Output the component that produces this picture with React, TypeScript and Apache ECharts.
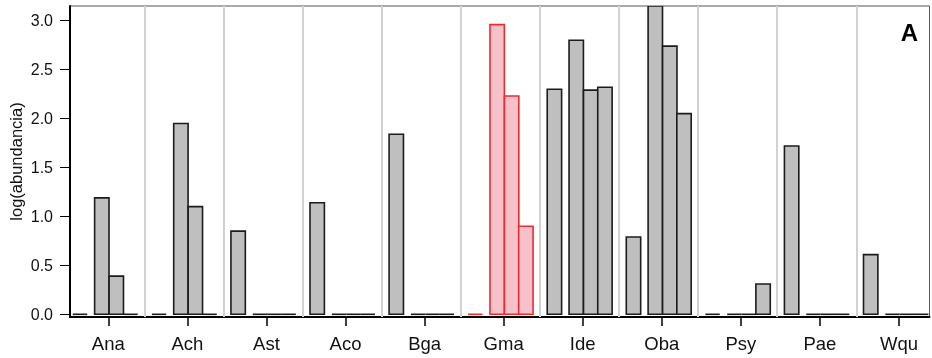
import React, { useEffect, useRef } from "react";
import * as echarts from "echarts";

const categories = ["Ana", "Ach", "Ast", "Aco", "Bga", "Gma", "Ide", "Oba", "Psy", "Pae", "Wqu"];
const barA = [0, 0, 0.85, 1.14, 1.84, 0, 2.30, 0.79, 0, 1.72, 0.61];
const barB = [1.19, 1.95, 0, 0, 0, 2.96, 2.80, 3.15, 0, 0, 0];
const barC = [0.39, 1.10, 0, 0, 0, 2.23, 2.29, 2.74, 0, 0, 0];
const barD = [0, 0, 0, 0, 0, 0.90, 2.32, 2.05, 0.31, 0, 0];
const highlighted = "Gma";
const yTicks = [0, 0.5, 1.0, 1.5, 2.0, 2.5, 3.0];
const panelLabel = "A";
const yName = "log(abundancia)";

const FONT = "'Liberation Sans Narrow', 'Liberation Sans', Arial, sans-serif";
const SLOT_LEFT = [-0.449, -0.173, 0.01, 0.19];
const SLOT_WIDTH = 0.182;
const SEP_OFFSET = 0.459;

export default function App() {
  const ref = useRef<HTMLDivElement>(null);
  useEffect(() => {
    if (!ref.current) return;
    const chart = echarts.init(ref.current, null, { renderer: "svg" });
    const slots = [barA, barB, barC, barD];
    const makeSeries = (vals: number[], slot: number) => ({
      type: "custom",
      clip: true,
      silent: true,
      data: vals.map((v, i) => [i, v]),
      renderItem: (params: any, api: any) => {
        const cat = api.value(0);
        const v = api.value(1);
        const base = api.coord([cat, 0]);
        const top = api.coord([cat, v]);
        const unit = api.size([1, 0])[0];
        const left = base[0] + SLOT_LEFT[slot] * unit;
        const bw = SLOT_WIDTH * unit;
        const hl = categories[cat] === highlighted;
        const stroke = hl ? "#ee2b2b" : "#1c1c1c";
        const fill = hl ? "#f7c1cc" : "#bfbfbf";
        if (v === 0) {
          return {
            type: "line",
            shape: { x1: left, y1: base[1], x2: left + bw, y2: base[1] },
            style: { stroke, lineWidth: 1.6 },
          };
        }
        return {
          type: "rect",
          shape: { x: left, y: top[1], width: bw, height: base[1] - top[1] },
          style: { fill, stroke, lineWidth: 1.6 },
        };
      },
      z: 3,
    });
    const catIdx = categories.map((_, i) => i);
    chart.setOption({
      animation: false,
      grid: {
        left: 70,
        right: 2.5,
        top: 6,
        bottom: 41,
        show: true,
        borderColor: "#555",
        borderWidth: 1,
        containLabel: false,
        outerBoundsMode: "none",
      },
      xAxis: {
        type: "value",
        min: (70 - 108.3) / 79.07,
        max: (929.5 - 108.3) / 79.07,
        axisLine: { show: true, onZero: false, lineStyle: { color: "#000", width: 2 } },
        axisTick: { show: true, length: 9, customValues: catIdx, lineStyle: { color: "#000", width: 1.5 } },
        axisLabel: {
          customValues: catIdx,
          formatter: (v: number) => categories[Math.round(v)] ?? "",
          fontFamily: FONT,
          fontSize: 18.5,
          color: "#111",
          margin: 17,
        },
        splitLine: { show: false },
      },
      yAxis: {
        type: "value",
        min: -0.0276,
        max: 3.15,
        name: yName,
        nameLocation: "middle",
        nameGap: 46,
        nameMoveOverlap: false,
        nameRotate: 90,
        nameTextStyle: { fontFamily: FONT, fontSize: 16.5, color: "#111" },
        axisLine: { show: true, onZero: false, lineStyle: { color: "#000", width: 2 } },
        axisTick: { show: true, length: 10, customValues: yTicks, lineStyle: { color: "#000", width: 1 } },
        axisLabel: {
          customValues: yTicks,
          formatter: (v: number) => v.toFixed(1),
          fontFamily: FONT,
          fontSize: 16,
          color: "#111",
          margin: 17,
        },
        splitLine: { show: false },
      },
      graphic: [
        {
          type: "text",
          right: 14,
          top: 20,
          style: { text: panelLabel, font: "bold 24px 'Liberation Sans', Arial, sans-serif", fill: "#000" },
        },
      ],
      series: [
        {
          type: "line",
          data: [],
          silent: true,
          z: 1,
          markLine: {
            silent: true,
            symbol: ["none", "none"],
            label: { show: false },
            lineStyle: { color: "#d2d2d2", width: 2, type: "solid" },
            data: categories.slice(0, -1).map((_, i) => ({ xAxis: i + SEP_OFFSET })),
          },
        },
        ...slots.map((vals, s) => makeSeries(vals, s)),
      ],
    });
    return () => chart.dispose();
  }, []);
  return <div ref={ref} style={{ position: "fixed", left: 0, top: 0, width: 932, height: 358 }} />;
}
